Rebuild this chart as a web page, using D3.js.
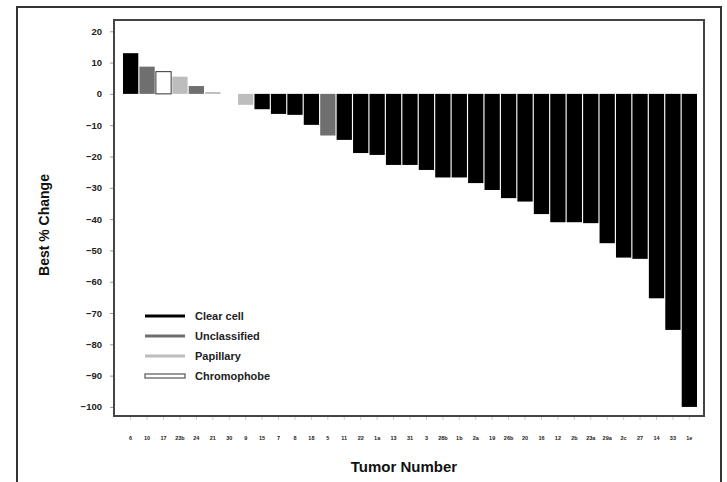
<!DOCTYPE html>
<meta charset="utf-8">
<style>
body { margin: 0; background: #fff; }
svg { display: block; font-family: "Liberation Sans", Arial, sans-serif; }
.axis-title { font-weight: bold; fill: #111; }
.tick-label { font-weight: bold; fill: #222; }
</style>
<body>
<svg width="727" height="482"></svg>
<script src="https://d3js.org/d3.v7.min.js"></script>
<script>
// tumor labels (hard to read in the original, best guess)
const tumors = ["6","10","17","23b","24","21","30","9","15","7","8","18","5","11","22","1a",
  "13","31","3","28b","1b","2a","19","26b","20","16","12","2b","23a","29a","2c","27","14","33","1e"];
const changes = [13, 8.7, 7.1, 5.5, 2.5, 0.6, 0, -3.5, -4.9, -6.4, -6.7, -9.9, -13.3, -14.7,
  -18.9, -19.5, -22.7, -22.7, -24.3, -26.7, -26.7, -28.5, -30.7, -33.3, -34.4, -38.4, -41,
  -41, -41.3, -47.7, -52.3, -52.7, -65.3, -75.4, -100];
const types = ["clear","unclass","chromo","papillary","unclass","papillary","clear","papillary",
  "clear","clear","clear","clear","unclass","clear","clear","clear","clear","clear","clear",
  "clear","clear","clear","clear","clear","clear","clear","clear","clear","clear","clear",
  "clear","clear","clear","clear","clear"];
const yTicks = [20, 10, 0, -10, -20, -30, -40, -50, -60, -70, -80, -90, -100];
const legendNames = ["Clear cell", "Unclassified", "Papillary", "Chromophobe"];
const legendKeys = ["clear", "unclass", "papillary", "chromo"];

const fillOf = {clear: "#000", unclass: "#6f6f6f", papillary: "#bdbdbd", chromo: "#fff"};

const svg = d3.select("svg");

// outer frame
svg.append("rect").attr("x", 17).attr("y", 7).attr("width", 704).attr("height", 490)
  .attr("fill", "none").attr("stroke", "#333").attr("stroke-width", 2);

const plot = {left: 114, right: 704, top: 20, bottom: 416};

const x = d3.scaleBand()
  .domain(d3.range(changes.length))
  .range([123, 697])
  .paddingInner(0.07);

const y = d3.scaleLinear()
  .domain([-102.9, 23.6])
  .range([plot.bottom, plot.top]);

// bars
svg.append("g").selectAll("rect")
  .data(changes)
  .join("rect")
  .attr("x", (d, i) => x(i))
  .attr("width", x.bandwidth())
  .attr("y", d => y(Math.max(0, d)))
  .attr("height", d => Math.abs(y(d) - y(0)))
  .attr("fill", (d, i) => fillOf[types[i]])
  .attr("stroke", (d, i) => types[i] === "chromo" ? "#333" : "none")
  .attr("stroke-width", 1);

// plot frame
svg.append("rect").attr("x", plot.left).attr("y", plot.top)
  .attr("width", plot.right - plot.left).attr("height", plot.bottom - plot.top)
  .attr("fill", "none").attr("stroke", "#444").attr("stroke-width", 2);

// y axis
const yAxis = svg.append("g").attr("transform", "translate(" + (plot.left - 1) + ",0)")
  .call(d3.axisLeft(y).tickValues(yTicks).tickSize(3).tickPadding(8)
    .tickFormat(d => d < 0 ? "\u2212" + Math.abs(d) : d));
yAxis.select(".domain").remove();
yAxis.selectAll("line").attr("stroke", "#999");
yAxis.selectAll("text").attr("class", "tick-label").style("font-size", "9.5px")
  .style("font-family", "'Liberation Sans', Arial, sans-serif");

// x axis
const xAxis = svg.append("g").attr("transform", "translate(0," + (plot.bottom + 1) + ")")
  .call(d3.axisBottom(x).tickSize(3).tickPadding(16).tickFormat(i => tumors[i]));
xAxis.select(".domain").remove();
xAxis.selectAll("line").attr("stroke", "#ccc");
xAxis.selectAll("text").attr("class", "tick-label").style("font-size", "5.5px")
  .style("font-family", "'Liberation Sans', Arial, sans-serif");

// titles
svg.append("text").attr("class", "axis-title")
  .attr("transform", "translate(49,225) rotate(-90)")
  .attr("text-anchor", "middle")
  .style("font-size", "14px")
  .text("Best % Change");

svg.append("text").attr("class", "axis-title")
  .attr("x", 404).attr("y", 472)
  .attr("text-anchor", "middle")
  .style("font-size", "15px")
  .text("Tumor Number");

// legend
const leg = svg.append("g").selectAll("g")
  .data(legendKeys)
  .join("g")
  .attr("transform", (d, i) => "translate(145," + (316 + i * 20) + ")");

leg.each(function(k) {
  const g = d3.select(this);
  if (k === "chromo") {
    g.append("rect").attr("x", 0).attr("y", -2).attr("width", 40).attr("height", 4)
      .attr("fill", "#fff").attr("stroke", "#555").attr("stroke-width", 1.2);
  } else {
    g.append("line").attr("x1", 0).attr("x2", 40).attr("y1", 0).attr("y2", 0)
      .attr("stroke", fillOf[k]).attr("stroke-width", 3);
  }
});

leg.append("text")
  .attr("x", 50).attr("dy", "0.35em")
  .style("font-size", "11px").style("font-weight", "bold").attr("fill", "#222")
  .text((d, i) => legendNames[i]);
</script>
</body>
